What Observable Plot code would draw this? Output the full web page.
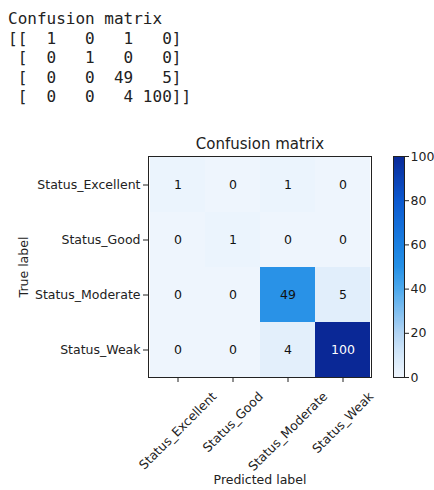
<!DOCTYPE html>
<html>
<head>
<meta charset="utf-8">
<script src="https://cdn.jsdelivr.net/npm/d3@7"></script>
<script src="https://cdn.jsdelivr.net/npm/@observablehq/plot@0.6"></script>
<style>
  body { margin: 0; background: #fff; }
  #wrap { position: relative; width: 434px; height: 490px; overflow: hidden; }
  #printout { position: absolute; left: 8px; top: 9px; margin: 0; font: 16px "DejaVu Sans Mono", monospace; line-height: 19.6px; color: #222; }
  #main { position: absolute; left: 0; top: 115px; }
  #cbar { position: absolute; left: 393px; top: 115px; }
</style>
</head>
<body>
<div id="wrap">
  <pre id="printout"></pre>
  <div id="main"></div>
  <div id="cbar"></div>
</div>
<script>
// ---- data ----
const xLabels = ["Status_Excellent", "Status_Good", "Status_Moderate", "Status_Weak"];
const yLabels = ["Status_Excellent", "Status_Good", "Status_Moderate", "Status_Weak"];
const row0 = [1, 0, 1, 0];
const row1 = [0, 1, 0, 0];
const row2 = [0, 0, 49, 5];
const row3 = [0, 0, 4, 100];
const matrix = [row0, row1, row2, row3];
const colorTicks = [0, 20, 40, 60, 80, 100];
const printTitle = "Confusion matrix";
const chartTitle = "Confusion matrix";
const xTitle = "Predicted label";
const yTitle = "True label";

// ---- printout ----
const w = Math.max(...matrix.flat().map(v => String(v).length));
const rowStr = r => "[" + r.map(v => String(v).padStart(w)).join(" ") + "]";
const lines = matrix.map((r, i) => (i === 0 ? "[" : " ") + rowStr(r) + (i === matrix.length - 1 ? "]" : ""));
document.getElementById("printout").textContent = printTitle + "\n" + lines.join("\n");

// ---- colour ----
const vmax = d3.max(matrix.flat());
const thresh = vmax / 2;
const colorScale = {
  type: "linear",
  domain: [0, 10, 20, 40, 50, 60, 80, 100],
  range: ["#eef5fd", "#d3e7f9", "#b0d3f3", "#4ba8ec", "#2590e6", "#1a7fe0", "#0b58cf", "#0a2896"],
  clamp: true
};

const cells = matrix.flatMap((row, i) => row.map((v, j) => ({t: yLabels[i], p: xLabels[j], v})));

const FS = 12.5;
// measure tick label widths for centred rotated labels
const ctx = document.createElement("canvas").getContext("2d");
ctx.font = FS + "px 'DejaVu Sans'";
const labelH = 11;
const xLabelMarks = xLabels.map(l => {
  const tw = ctx.measureText(l).width;
  const bh = (tw + labelH) * Math.SQRT1_2;
  return Plot.text([l], {
    x: d => d, frameAnchor: "bottom", text: d => d, rotate: -45,
    textAnchor: "middle", lineAnchor: "middle", dy: 13 + bh / 2, fontSize: FS, fill: "#222"
  });
});

const main = Plot.plot({
  width: 434, height: 375,
  marginTop: 41, marginBottom: 113, marginLeft: 148, marginRight: 63,
  style: {fontFamily: "DejaVu Sans", fontSize: FS + "px", color: "#222", background: "transparent"},
  x: {type: "band", domain: xLabels, padding: 0},
  y: {type: "band", domain: yLabels, padding: 0},
  color: colorScale,
  marks: [
    Plot.cell(cells, {x: "p", y: "t", fill: "v", inset: 0}),
    Plot.frame({stroke: "#222"}),
    Plot.text(cells, {x: "p", y: "t", text: d => String(d.v), fill: d => d.v > thresh ? "#ffffff" : "#111", fontSize: FS}),
    Plot.axisY({tickSize: 5, tickPadding: 3, fontSize: FS, label: null}),
    Plot.axisX({tickSize: 5, tickFormat: () => "", label: null}),
    ...xLabelMarks,
    Plot.text([chartTitle], {frameAnchor: "top", lineAnchor: "middle", text: d => d, dy: -12, fontSize: 15, fill: "#222"}),
    Plot.text([xTitle], {frameAnchor: "bottom", lineAnchor: "middle", text: d => d, dy: 102, fontSize: FS, fill: "#222"}),
    Plot.text([yTitle], {frameAnchor: "left", textAnchor: "middle", lineAnchor: "middle", text: d => d, rotate: -90, dx: -125, fontSize: FS, fill: "#222"})
  ]
});
document.getElementById("main").appendChild(main);

// ---- colorbar ----
const steps = d3.range(0, vmax, 0.5);
const cbar = Plot.plot({
  width: 41, height: 375,
  marginTop: 41, marginBottom: 113, marginLeft: 0, marginRight: 30,
  style: {fontFamily: "DejaVu Sans", fontSize: FS + "px", color: "#222", background: "transparent"},
  x: {domain: [0, 1], axis: null},
  y: {domain: [0, vmax]},
  color: colorScale,
  marks: [
    Plot.rect(steps, {x1: 0, x2: 1, y1: d => d, y2: d => Math.min(vmax, d + 1), fill: d => d, shapeRendering: "crispEdges"}),
    Plot.frame({stroke: "#222"}),
    Plot.axisY({anchor: "right", ticks: colorTicks, tickSize: 4, tickPadding: 2, fontSize: FS, label: null})
  ]
});
document.getElementById("cbar").appendChild(cbar);
</script>
</body>
</html>
